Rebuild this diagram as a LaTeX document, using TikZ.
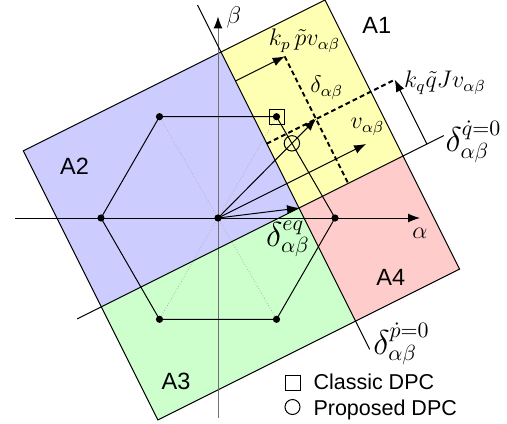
\documentclass[tikz,border=0pt]{standalone}
\usepackage[no-math]{fontspec}
\setmainfont{Liberation Sans}
\usetikzlibrary{arrows.meta, calc}
\definecolor{regyellow}{HTML}{FFFFB4}
\definecolor{regblue}{HTML}{CCCCFF}
\definecolor{reggreen}{HTML}{CCFFCC}
\definecolor{regpink}{HTML}{FFCCCC}
\definecolor{axgray}{HTML}{707070}

\begin{document}
\begin{tikzpicture}[x=0.5pt, y=0.5pt, line width=0.5pt,
    vec/.style={-{Latex[length=6pt, width=4.5pt]}},
    vdot/.style={circle, fill=black, inner sep=0pt, minimum size=3.6pt},
    guide/.style={line width=1pt, dash pattern=on 2.4pt off 1.6pt},
    bigmath/.style={font=\fontsize{16}{18}\selectfont, inner sep=0pt},
    smallmath/.style={font=\fontsize{12}{14}\selectfont, inner sep=0pt},
    axislbl/.style={font=\fontsize{13}{15}\selectfont, inner sep=0pt},
    region/.style={font=\fontsize{11.75}{14}\selectfont, inner sep=0pt},
    legend/.style={font=\fontsize{10.75}{13}\selectfont, inner sep=0pt}]
  \useasboundingbox (-218,-205) rectangle (289,218);
  \coordinate (O) at (0,0);
  % frame turned along v_alpha beta, origin at delta^eq
  \begin{scope}[shift={(81,10)}, rotate=26.565]
    \fill[regyellow] (0,0) rectangle (116.3,174.4);
    \fill[regblue] (-221,0) rectangle (0,174.4);
    \fill[reggreen] (-221,-126.5) rectangle (0,0);
    \fill[regpink] (0,-126.5) rectangle (116.3,0);
    \draw (-221,-126.5) rectangle (116.3,174.4);
    \coordinate (eq) at (0,0);
    \coordinate (qa) at (-248,0);
    \coordinate (qb) at (162,0);
    \coordinate (pa) at (0,-158);
    \coordinate (pb) at (0,227);
    \coordinate (kp0) at (0,142);
    \coordinate (kp) at (55,142);
    \coordinate (dl) at (55,72);
    \coordinate (dpb) at (55,0);
    \coordinate (dq0) at (0,72);
    \coordinate (kq) at (143,72);
    \coordinate (kq0) at (143,0);
  \end{scope}
  \coordinate (v) at (26.565:165.6);
  \foreach \i in {0,...,5}
    \coordinate (h\i) at (\i*60:117);

  \foreach \i in {1,2,4,5}
    \draw[gray!60, densely dotted, line width=0.4pt] (O) -- (h\i);

  \coordinate (al) at (-203,0);
  \coordinate (ar) at (202,0);
  \coordinate (bb) at (0,-200);
  \coordinate (bt) at (0,201.5);
  \draw[vec] (al) -- (ar);
  \draw[axgray, -{Latex[length=6pt, width=4.5pt, color=black]}] (bb) -- (bt);

  \draw (h0) -- (h1) -- (h2) -- (h3) -- (h4) -- (h5) -- cycle;
  \draw (qa) -- (qb);
  \draw (pa) -- (pb);

  \draw[vec] (O) -- (eq);
  \draw[vec] (O) -- (dl);
  \draw[vec] (O) -- (v);
  \draw[vec] (kp0) -- (kp);
  \draw[vec] (kq0) -- (kq);
  \draw[guide] (kp) -- (dpb);
  \draw[guide] (dq0) -- (kq);

  \node[draw, minimum size=7.5pt, inner sep=0pt] (classic) at (h1) {};
  \node[draw, circle, minimum size=7.7pt, inner sep=0pt] (proposed)
    at (intersection of O--dl and h0--h1) {};
  \foreach \i in {0,...,5}
    \node[vdot] (d\i) at (h\i) {};
  \node[vdot] (dO) at (O) {};

  \node[axislbl] (lbeta) at (16,200.5) {$\beta$};
  \node[axislbl] (lalpha) at (202,-15.5) {$\alpha$};
  \node[region] (a1) at (158.7,193) {A1};
  \node[region] (a2) at (-143.5,52) {A2};
  \node[region] (a3) at (-42,-163) {A3};
  \node[region] (a4) at (172.8,-59) {A4};
  \node[smallmath] (lkp) at (86.5,177.2) {$k_p\,\tilde{p}v_{\alpha\beta}$};
  \node[smallmath] (ldelta) at (108.7,130.5) {$\delta_{\alpha\beta}$};
  \node[smallmath] (lv) at (149.5,91.3) {$v_{\alpha\beta}$};
  \node[smallmath] (lkq) at (227,135.5) {$k_q\tilde{q}Jv_{\alpha\beta}$};
  \node[bigmath] (lq0) at (255.5,76.5) {$\delta_{\alpha\beta}^{\dot{q}=0}$};
  \node[bigmath] (leq) at (70,-21) {$\delta_{\alpha\beta}^{eq}$};
  \node[bigmath] (lp0) at (183.5,-126) {$\delta_{\alpha\beta}^{\dot{p}=0}$};

  \node[draw, minimum size=7.5pt, inner sep=0pt] (keysq) at (74.5,-164.5) {};
  \node[draw, circle, minimum size=7.5pt, inner sep=0pt] (keyci) at (74.5,-189) {};
  \node[legend, anchor=base west] (keyclassic) at (95,-171) {Classic DPC};
  \node[legend, anchor=base west] (keyproposed) at (95,-197) {Proposed DPC};
\end{tikzpicture}
\end{document}
